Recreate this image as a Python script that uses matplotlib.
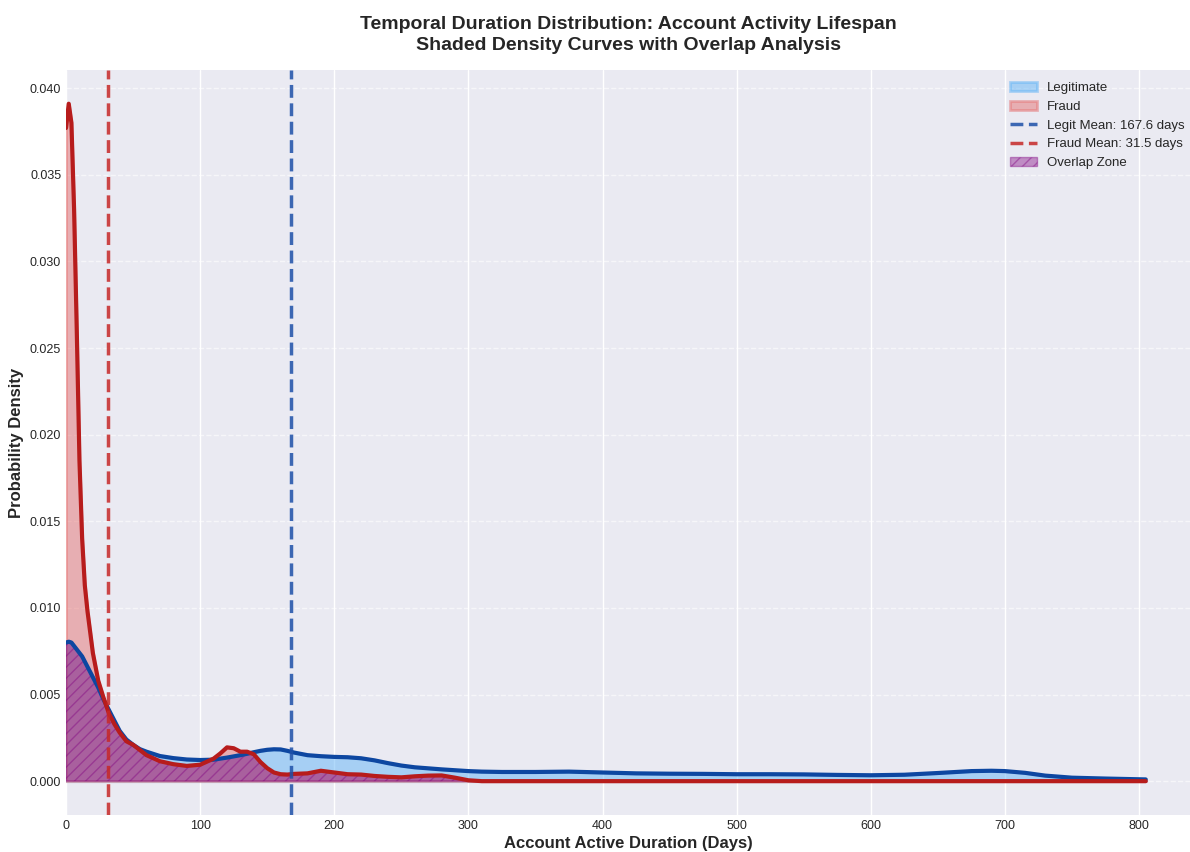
import matplotlib

matplotlib.use("Agg")
import matplotlib.pyplot as plt
import numpy as np

# Density curves sampled at the same day positions (estimated KDE values)
days = [0, 2, 4, 6, 8, 10, 12, 14, 16, 18, 20, 24, 28, 32, 36, 40, 45, 50, 55, 60,
        70, 80, 90, 100, 110, 115, 120, 125, 130, 135, 140, 145, 150, 155, 160, 165,
        170, 180, 190, 200, 210, 220, 230, 240, 250, 260, 270, 280, 290, 300, 310,
        325, 350, 375, 400, 425, 450, 475, 500, 525, 550, 575, 600, 625, 650, 675,
        690, 700, 715, 730, 750, 775, 805]

legit_density = [0.0080, 0.00805, 0.0080, 0.0078, 0.0076, 0.0074, 0.0072, 0.0069, 0.0066,
                 0.0063, 0.0060, 0.0054, 0.0047, 0.0041, 0.0035, 0.0029, 0.0024, 0.0021,
                 0.00185, 0.0017, 0.00145, 0.00133, 0.00125, 0.00122, 0.00124, 0.0013,
                 0.00136, 0.00143, 0.0015, 0.00158, 0.00167, 0.00175, 0.00181, 0.00184,
                 0.00183, 0.00175, 0.00165, 0.0015, 0.00144, 0.0014, 0.00138, 0.00132,
                 0.0012, 0.00104, 0.0009, 0.0008, 0.00074, 0.00068, 0.00063, 0.00058,
                 0.00055, 0.00053, 0.00053, 0.00055, 0.0005, 0.00045, 0.00043, 0.00042,
                 0.0004, 0.0004, 0.00039, 0.00036, 0.00034, 0.00037, 0.00047, 0.00058,
                 0.0006, 0.00058, 0.00048, 0.00032, 0.0002, 0.00015, 0.0001]

fraud_density = [0.0377, 0.0391, 0.0380, 0.0330, 0.0260, 0.0185, 0.0140, 0.0113, 0.0098,
                 0.0086, 0.0074, 0.0058, 0.0048, 0.0039, 0.0033, 0.0028, 0.0023, 0.0021,
                 0.0018, 0.0015, 0.00115, 0.00098, 0.00088, 0.00095, 0.0013, 0.0016,
                 0.00195, 0.0019, 0.0017, 0.0017, 0.00155, 0.0011, 0.00075, 0.0005,
                 0.0004, 0.00038, 0.00042, 0.00045, 0.0006, 0.0005, 0.0004, 0.00038,
                 0.0003, 0.00025, 0.00022, 0.00028, 0.00032, 0.00033, 0.0002, 0.00005,
                 0.0, 0.0, 0.0, 0.0, 0.0, 0.0, 0.0, 0.0, 0.0, 0.0, 0.0, 0.0, 0.0, 0.0,
                 0.0, 0.0, 0.0, 0.0, 0.0, 0.0, 0.0, 0.0, 0.0]

legit_mean = 167.6
fraud_mean = 31.5

plt.style.use("seaborn-v0_8-darkgrid")
plt.rcParams["font.family"] = ["Liberation Sans", "DejaVu Sans"]

x = np.array(days, dtype=float)
legit = np.array(legit_density)
fraud = np.array(fraud_density)
overlap = np.minimum(legit, fraud)

fig, ax = plt.subplots(figsize=(11.9, 8.52), dpi=100)
fig.subplots_adjust(left=0.0555, right=1.0, top=0.918, bottom=0.0434)

ax.fill_between(x, legit, color="#64B5F6", alpha=0.5, linewidth=2, label="Legitimate")
ax.fill_between(x, fraud, color="#E57373", alpha=0.5, linewidth=2, label="Fraud")
ax.plot(x, legit, color="#0D47A1", linewidth=3)
ax.plot(x, fraud, color="#B71C1C", linewidth=3)

ax.axvline(legit_mean, color="#1E50A8", linestyle="--", linewidth=2.5, alpha=0.85,
           label=f"Legit Mean: {legit_mean:.1f} days")
ax.axvline(fraud_mean, color="#C62828", linestyle="--", linewidth=2.5, alpha=0.85,
           label=f"Fraud Mean: {fraud_mean:.1f} days")

# shared area under both curves
ax.fill_between(x, overlap, color="purple", alpha=0.4, hatch="///", linewidth=1,
                label="Overlap Zone")

ax.set_xlim(0, 838)
ax.xaxis.grid(True, color="white", linewidth=1.0, linestyle="-")
ax.yaxis.grid(True, color="white", linewidth=1.0, linestyle="--", alpha=0.6)
ax.tick_params(labelsize=9)

ax.set_xlabel("Account Active Duration (Days)", fontsize=12, fontweight="bold", labelpad=3)
ax.set_ylabel("Probability Density", fontsize=12, fontweight="bold")
ax.set_title("Temporal Duration Distribution: Account Activity Lifespan\n"
             "Shaded Density Curves with Overlap Analysis",
             fontsize=14, fontweight="bold", pad=14, linespacing=1.35)

ax.legend(loc="upper right", bbox_to_anchor=(1.006, 1.0), fontsize=9.5, frameon=False)

fig.savefig("out.png", dpi=100)
plt.close(fig)
